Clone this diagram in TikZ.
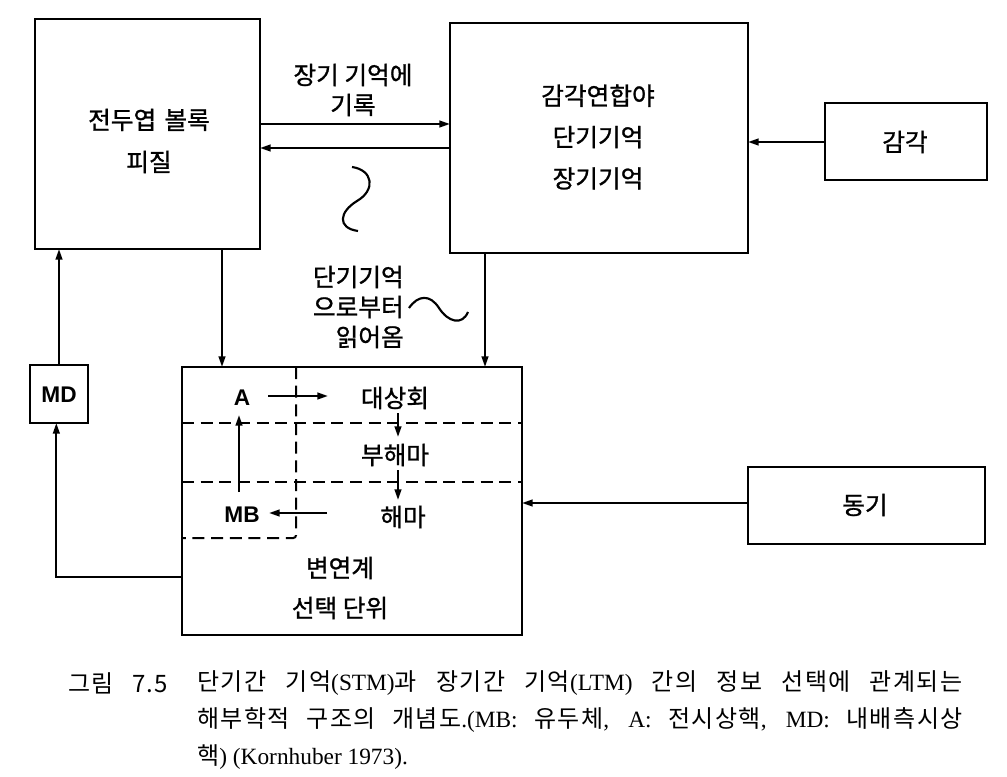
\documentclass[tikz,border=0pt]{standalone}
\usepackage{fontspec}
\setmainfont{Noto Sans CJK KR}
\newfontfamily\hel{Liberation Sans}
\newfontfamily\ser{Liberation Serif}
\newfontfamily\kdia{Noto Sans CJK KR}[FakeBold=1]
\newfontfamily\kcap{Noto Sans CJK KR}[LetterSpace=6]
\usetikzlibrary{arrows.meta}
\begin{document}
\begin{tikzpicture}[x=0.75pt,y=-0.75pt,
  box/.style={draw, line width=2.2pt, inner sep=0pt, outer sep=0pt},
  arr/.style={line width=1.6pt, -{Triangle[length=8pt,width=5pt]}},
  dsh/.style={line width=1.5pt, dash pattern=on 9pt off 5pt},
  wave/.style={line width=1.6pt},
  txt/.style={inner sep=0pt, font=\kdia\fontsize{18.5}{31.5}\selectfont, align=center},
  lbl/.style={inner sep=0pt, font=\kdia\fontsize{18.5}{22.5}\selectfont},
  ltr/.style={inner sep=0pt, font=\hel\bfseries\fontsize{17}{20}\selectfont},
  captxt/.style={inner sep=0pt, font=\kcap\fontsize{18}{20}\selectfont}
]
\newcommand\lt[1]{{\ser\fontsize{17.5}{20}\selectfont #1}}
\fill[white] (0,0) rectangle (1007,777);
\useasboundingbox (0,0) rectangle (1007,777);

% boxes
\node[box, minimum width=225*0.75pt, minimum height=230*0.75pt] (L) at (147.5,134) {};
\node[box, minimum width=298*0.75pt, minimum height=230*0.75pt] (R) at (599,138) {};
\node[box, minimum width=162*0.75pt, minimum height=77*0.75pt] (S) at (906,141.5) {};
\node[box, minimum width=237*0.75pt, minimum height=77*0.75pt] (M) at (866.5,505.5) {};
\node[box, minimum width=340*0.75pt, minimum height=268*0.75pt] (U) at (352,501) {};
\node[box, minimum width=58*0.75pt, minimum height=58*0.75pt] (MD) at (59,394) {};

% box texts
\node[txt] (Lt) at (149,141) {전두엽\hspace{2pt} 볼록\\피질};
\node[txt, font=\kdia\fontsize{18.5}{31}\selectfont] (Rt) at (598,137) {감각연합야\\단기기억\\장기기억};
\node[txt] (St) at (905,142) {감각};
\node[txt] (Mt) at (865,505) {동기};
\node[ltr] (MDt) at (59,395) {MD};

% inner of selection unit
\node[ltr] (A) at (242,398) {A};
\node[ltr] (MB) at (242,515) {MB};
\node[txt] (D) at (395,398) {대상회};
\node[txt] (P) at (395,455) {부해마};
\node[txt] (H) at (403,517) {해마};
\node[txt] (Ul) at (340,568) {변연계};
\node[txt] (Us) at (340,608) {선택 단위};

% dashed partitions
\draw[dsh] (U.west |- 0,423) -- (U.east |- 0,423);
\draw[dsh] (U.west |- 0,482) -- (U.east |- 0,482);
\draw[dsh, rounded corners=2pt] (U.north -| 296,0) -- (296,538) -- (U.west |- 0,538);

% inner arrows
\draw[arr] ([shift={(26,-2)}]A.center) -- ([shift={(-67,-2)}]D.center);
\draw[arr] ([shift={(-3,-23)}]MB.center) -- ([shift={(-3,17)}]A.center);
\draw[arr] ([shift={(-76,-4)}]H.center) -- ([shift={(27,-2)}]MB.center);
\draw[arr] ([shift={(3,15)}]D.center) -- ([shift={(3,-18)}]P.center);
\draw[arr] ([shift={(3,15)}]P.center) -- ([shift={(-5,-17)}]H.center);

% outer arrows
\draw[arr] (L.east |- 0,124) -- (R.west |- 0,124);
\draw[arr] (R.west |- 0,148) -- (L.east |- 0,148);
\draw[arr] (S.west |- 0,142) -- (R.east |- 0,142);
\draw[arr] (L.south -| 222,0) -- (U.north -| 222,0);
\draw[arr] (R.south -| 485,0) -- (U.north -| 485,0);
\draw[arr] (M.west |- 0,503) -- (U.east |- 0,503);
\draw[arr] (MD.north) -- (L.south -| MD.north);
\draw[arr] (U.west |- 0,577) -| ([xshift=-2pt]MD.south);

% labels and waves
\node[lbl, align=center] (wl) at (353,90) {장기 기억에\\기록};
\node[lbl, align=right, anchor=east] (rl) at (404,307) {단기기억\\으로부터\\읽어옴};
\draw[wave] (352,167) .. controls (373,170) and (376,190) .. (357,201) .. controls (339,212) and (337,228) .. (358,231);
\draw[wave] (409,308) .. controls (418,295) and (430,294) .. (439,308) .. controls (448,322) and (462,326) .. (468,312);

% caption
\node[captxt, anchor=west] (c0) at (68,683) {\makebox[75pt][s]{그림\hfill 7\kern1pt.\kern1pt 5}};
\node[captxt, anchor=west] (c1) at (197,683) {\makebox[574pt][s]{단기간 기억\lt{(STM)}과 장기간 기억\lt{(LTM)} 간의 정보 선택에 관계되는}};
\node[captxt, anchor=west] (c2) at (197,720) {\makebox[574pt][s]{해부학적 구조의 개념도\lt{.(MB:} 유두체\lt{,} \lt{A:} 전시상핵\lt{,} \lt{MD:} 내배측시상}};
\node[captxt, anchor=west] (c3) at (197,757) {핵\lt{) (Kornhuber 1973).}};
\end{tikzpicture}
\end{document}
